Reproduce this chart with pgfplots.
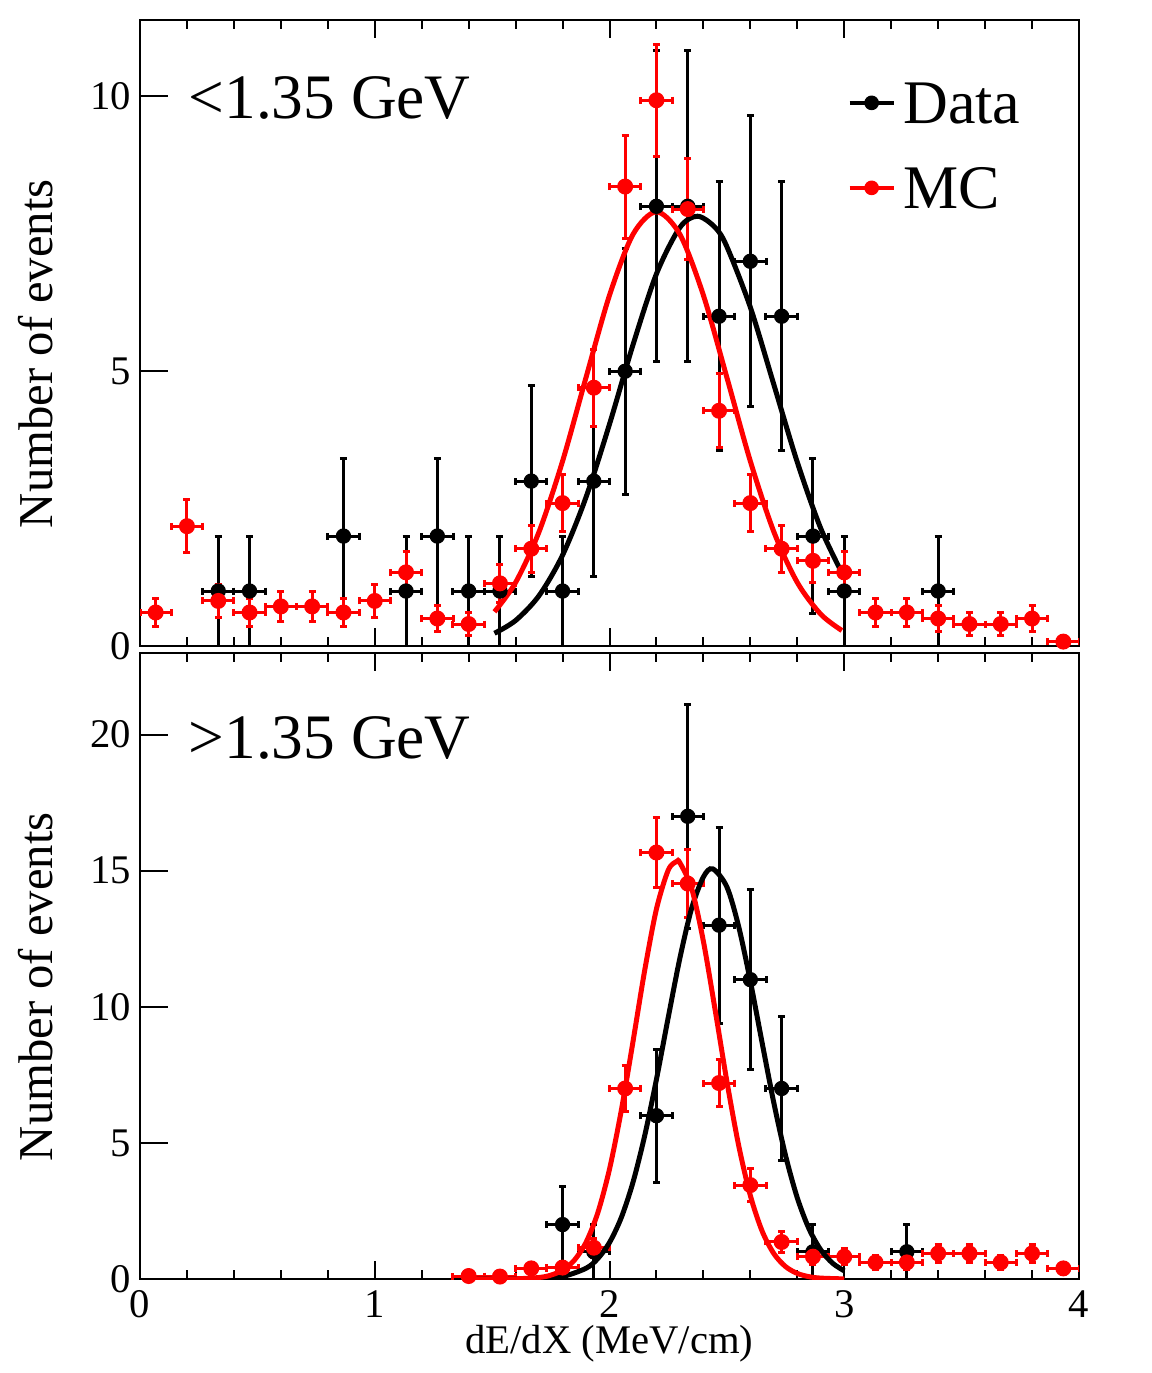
\documentclass[border=0pt]{standalone}
\usepackage{fontspec}
\setmainfont{Liberation Serif}
\usepackage{pgfplots}
\pgfplotsset{compat=1.18}

\pgfplotstableread{
x y ex ey
0.3333 1 0.0667 1
0.4667 1 0.0667 1
0.8667 2 0.0667 1.414
1.1333 1 0.0667 1
1.2667 2 0.0667 1.414
1.4000 1 0.0667 1
1.5333 1 0.0667 1
1.6667 3 0.0667 1.732
1.8000 1 0.0667 1
1.9333 3 0.0667 1.732
2.0667 5 0.0667 2.236
2.2000 8 0.0667 2.828
2.3333 8 0.0667 2.828
2.4667 6 0.0667 2.449
2.6000 7 0.0667 2.646
2.7333 6 0.0667 2.449
2.8667 2 0.0667 1.414
3.0000 1 0.0667 1
3.4000 1 0.0667 1
}\datalow

\pgfplotstableread{
x y ex ey
0.0667 0.61 0.0667 0.253
0.2000 2.18 0.0667 0.478
0.3333 0.82 0.0667 0.293
0.4667 0.61 0.0667 0.253
0.6000 0.72 0.0667 0.275
0.7333 0.72 0.0667 0.275
0.8667 0.61 0.0667 0.253
1.0000 0.82 0.0667 0.293
1.1333 1.34 0.0667 0.375
1.2667 0.50 0.0667 0.229
1.4000 0.40 0.0667 0.205
1.5333 1.14 0.0667 0.346
1.6667 1.77 0.0667 0.431
1.8000 2.60 0.0667 0.522
1.9333 4.70 0.0667 0.702
2.0667 8.36 0.0667 0.937
2.2000 9.93 0.0667 1.021
2.3333 7.95 0.0667 0.914
2.4667 4.28 0.0667 0.670
2.6000 2.60 0.0667 0.522
2.7333 1.77 0.0667 0.431
2.8667 1.55 0.0667 0.403
3.0000 1.34 0.0667 0.375
3.1333 0.61 0.0667 0.253
3.2667 0.61 0.0667 0.253
3.4000 0.50 0.0667 0.229
3.5333 0.40 0.0667 0.205
3.6667 0.40 0.0667 0.205
3.8000 0.50 0.0667 0.229
3.9333 0.08 0.0667 0.092
}\mclow

\pgfplotstableread{
x y ex ey
1.8000 2 0.0667 1.414
1.9333 1 0.0667 1
2.2000 6 0.0667 2.449
2.3333 17 0.0667 4.123
2.4667 13 0.0667 3.606
2.6000 11 0.0667 3.317
2.7333 7 0.0667 2.646
2.8667 1 0.0667 1
3.2667 1 0.0667 1
}\datahigh

\pgfplotstableread{
x y ex ey
1.4000 0.11 0.0667 0.108
1.5333 0.09 0.0667 0.098
1.6667 0.39 0.0667 0.203
1.8000 0.42 0.0667 0.211
1.9333 1.15 0.0667 0.349
2.0667 7.00 0.0667 0.861
2.2000 15.67 0.0667 1.289
2.3333 14.53 0.0667 1.241
2.4667 7.20 0.0667 0.874
2.6000 3.45 0.0667 0.605
2.7333 1.36 0.0667 0.380
2.8667 0.82 0.0667 0.295
3.0000 0.82 0.0667 0.295
3.1333 0.61 0.0667 0.254
3.2667 0.61 0.0667 0.254
3.4000 0.94 0.0667 0.316
3.5333 0.94 0.0667 0.316
3.6667 0.61 0.0667 0.254
3.8000 0.94 0.0667 0.316
3.9333 0.39 0.0667 0.203
}\mchigh

\pgfplotsset{
  panel/.style={
    width=281.7pt, height=187.8pt, scale only axis,
    xmin=0, xmax=4,
    xtick={0,1,2,3,4},
    minor x tick num=4,
    xtick pos=both, ytick pos=left,
    tick align=inside,
    major tick length=5.4pt,
    minor tick length=2.6pt,
    ytick style={/pgfplots/major tick length=8.4pt},
    every tick/.style={line width=0.6pt, black},
    axis line style={line width=0.7pt},
    tick label style={font=\fontsize{12.2}{14}\selectfont},
    /pgf/number format/assume math mode=true,
    ylabel={Number of events},
    ylabel style={at={(axis description cs:-0.0937,0.467)}, anchor=base, font=\fontsize{14.6}{17}\selectfont},
    yticklabel style={xshift=0.8pt},
  },
  dataerr/.style={black, only marks, mark=*, mark size=2.1pt,
    error bars/.cd, x dir=both, x explicit, y dir=both, y explicit,
    error bar style={black, line width=0.9pt},
    error mark options={rotate=90, black, mark size=1.05pt, line width=0.9pt}},
  mcerr/.style={red, only marks, mark=*, mark size=2.2pt,
    error bars/.cd, x dir=both, x explicit, y dir=both, y explicit,
    error bar style={red, line width=0.9pt},
    error mark options={rotate=90, red, mark size=1.05pt, line width=0.9pt}},
}

\begin{document}
\begin{tikzpicture}
\path[use as bounding box] (0pt,0pt) rectangle (345.3pt,-411.9pt);

\begin{axis}[panel, at={(42pt,-6pt)}, anchor=north west,
  ymin=0, ymax=11.39, ytick={0,5,10}, xticklabels={},
  legend style={at={(axis description cs:0.7529,0.902)}, anchor=north west,
    draw=none, fill=none, inner sep=0pt, row sep=13pt, column sep=2.3pt,
    font=\fontsize{18.6}{22}\selectfont,
    nodes={inner sep=0pt, text height=12.5pt, text depth=0pt}},
  legend cell align=left]
\addlegendimage{legend image code/.code={\draw[black,line width=1.2pt](0pt,0pt)--(13.2pt,0pt); \fill[black](6.6pt,0pt) circle[radius=2pt];}}
\addlegendentry{Data}
\addlegendimage{legend image code/.code={\draw[red,line width=1.2pt](0pt,0pt)--(13.2pt,0pt); \fill[red](6.6pt,0pt) circle[radius=2pt];}}
\addlegendentry{MC}
\addplot[forget plot, dataerr] table[x=x,y=y,x error=ex,y error=ey] {\datalow};
\addplot[forget plot, mcerr] table[x=x,y=y,x error=ex,y error=ey] {\mclow};
\addplot[forget plot, black, line width=1.5pt, smooth] coordinates {
(1.51,0.232) (1.6,0.464) (1.7,0.917) (1.8,1.652) (1.9,2.707) (2.0,4.036)
(2.1,5.479) (2.2,6.770) (2.3,7.616) (2.375,7.82) (2.45,7.616) (2.5,7.266)
(2.6,6.163) (2.7,4.758) (2.8,3.344) (2.9,2.139) (3.0,1.246)};
\addplot[forget plot, red, line width=1.5pt, smooth] coordinates {
(1.51,0.622) (1.6,1.156) (1.7,2.079) (1.8,3.362) (1.9,4.886) (2.0,6.381)
(2.1,7.489) (2.2,7.90) (2.3,7.489) (2.4,6.381) (2.5,4.886) (2.6,3.362)
(2.7,2.079) (2.8,1.156) (2.9,0.578) (2.99,0.282)};
\node[anchor=base west, inner sep=0pt, font=\fontsize{19}{22}\selectfont] at (axis description cs:0.0511,0.843) {<1.35 GeV};
\end{axis}

\begin{axis}[panel, at={(42pt,-195.9pt)}, anchor=north west,
  ymin=0, ymax=23, ytick={0,5,10,15,20},
  xlabel={dE/dX (MeV/cm)},
  xlabel style={at={(axis description cs:0.5,-0.119)}, anchor=base, font=\fontsize{12.2}{14}\selectfont}]
\addplot[dataerr] table[x=x,y=y,x error=ex,y error=ey] {\datahigh};
\addplot[mcerr] table[x=x,y=y,x error=ex,y error=ey] {\mchigh};
\addplot[black, line width=1.5pt, smooth] coordinates {
(1.4,0.0) (1.5,0.0002) (1.6,0.002) (1.7,0.016) (1.8,0.090) (1.9,0.394)
(1.95,0.749) (2.0,1.340) (2.05,2.251) (2.1,3.552) (2.15,5.268) (2.2,7.336)
(2.25,9.600) (2.3,11.795) (2.35,13.622) (2.4,14.772) (2.44,15.07) (2.5,14.407)
(2.55,12.957) (2.6,10.943) (2.65,8.686) (2.7,6.474) (2.75,4.535) (2.8,2.982)
(2.85,1.843) (2.9,1.070) (2.95,0.583) (3.0,0.299)};
\addplot[red, line width=1.5pt, smooth] coordinates {
(1.4,0.0) (1.5,0.0006) (1.6,0.007) (1.7,0.056) (1.75,0.141) (1.8,0.324)
(1.85,0.688) (1.9,1.347) (1.95,2.429) (2.0,4.036) (2.05,6.180) (2.1,8.719)
(2.15,11.342) (2.2,13.594) (2.25,15.018) (2.286,15.34) (2.3,15.291) (2.35,14.348)
(2.4,12.407) (2.45,9.888) (2.5,7.263) (2.55,4.917) (2.6,3.067) (2.65,1.764)
(2.7,0.934) (2.75,0.456) (2.8,0.205) (2.85,0.085) (2.9,0.033) (3.0,0.004)};
\node[anchor=base west, inner sep=0pt, font=\fontsize{19}{22}\selectfont] at (axis description cs:0.0511,0.832) {>1.35 GeV};
\end{axis}
\end{tikzpicture}
\end{document}
